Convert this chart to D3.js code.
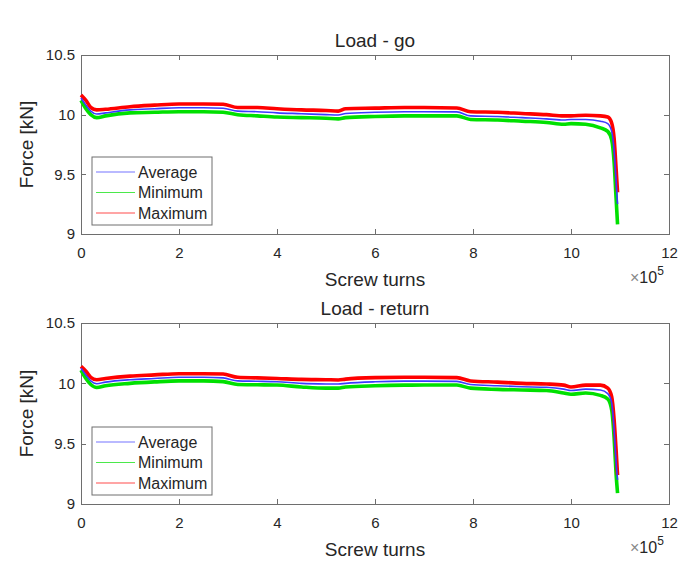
<!DOCTYPE html>
<html lang="en">
<head>
<meta charset="UTF-8">
<title>Load - go / Load - return</title>
<style>
  body { margin: 0; background: #fff; }
  text { font-family: "Liberation Sans", Arial, sans-serif; fill: #262626; }
  .axis path, .axis line { stroke: #6e6e6e; stroke-width: 1; shape-rendering: crispEdges; }
  .axis text { font-size: 15px; fill: #262626; }
</style>
</head>
<body>
<div id="chart"></div>
<script src="https://d3js.org/d3.v7.min.js"></script>
<script>
// screw turns, in units of 1e5
var turns = [0, 0.1, 0.2, 0.32, 0.5, 1.0, 1.5, 2.0, 2.5, 2.9, 3.2, 3.6, 4.0, 4.5, 5.0, 5.25, 5.4,
             6.0, 6.6, 7.0, 7.67, 7.95, 8.5, 9.0, 9.5, 9.85, 10.0, 10.3, 10.6, 10.75, 10.83, 10.88, 10.92, 10.95];

// Load - go
var goAvg = [10.14, 10.08, 10.03, 10.005, 10.015, 10.04, 10.05, 10.058, 10.058, 10.054, 10.03, 10.025, 10.015, 10.008, 10.0, 9.997, 10.01,
             10.02, 10.025, 10.025, 10.023, 9.99, 9.985, 9.975, 9.965, 9.955, 9.96, 9.96, 9.945, 9.925, 9.86, 9.7, 9.45, 9.25];
var goMin = [10.12, 10.05, 10.0, 9.975, 9.99, 10.015, 10.02, 10.025, 10.025, 10.02, 10.0, 9.99, 9.98, 9.975, 9.97, 9.965, 9.975,
             9.985, 9.99, 9.99, 9.99, 9.96, 9.955, 9.945, 9.935, 9.92, 9.925, 9.92, 9.89, 9.86, 9.79, 9.6, 9.3, 9.08];
var goMax = [10.165, 10.12, 10.06, 10.04, 10.045, 10.067, 10.08, 10.09, 10.09, 10.087, 10.06, 10.06, 10.05, 10.04, 10.035, 10.03, 10.05,
             10.055, 10.06, 10.06, 10.056, 10.025, 10.02, 10.01, 10.0, 9.99, 9.99, 9.995, 9.99, 9.98, 9.93, 9.8, 9.55, 9.35];

// Load - return
var retAvg = [10.125, 10.07, 10.02, 9.997, 10.01, 10.03, 10.04, 10.05, 10.05, 10.045, 10.02, 10.017, 10.013, 10.0, 9.995, 9.994, 10.0,
              10.013, 10.018, 10.018, 10.016, 9.99, 9.98, 9.972, 9.967, 9.952, 9.94, 9.952, 9.945, 9.915, 9.84, 9.62, 9.35, 9.2];
var retMin = [10.11, 10.04, 9.99, 9.965, 9.98, 10.0, 10.012, 10.02, 10.02, 10.014, 9.99, 9.988, 9.986, 9.97, 9.96, 9.96, 9.97,
              9.98, 9.985, 9.986, 9.986, 9.96, 9.95, 9.945, 9.94, 9.92, 9.91, 9.92, 9.9, 9.87, 9.78, 9.55, 9.25, 9.09];
var retMax = [10.14, 10.1, 10.05, 10.03, 10.04, 10.06, 10.07, 10.08, 10.08, 10.077, 10.05, 10.045, 10.04, 10.033, 10.03, 10.028, 10.035,
              10.047, 10.05, 10.05, 10.047, 10.02, 10.01, 10.0, 9.995, 9.985, 9.97, 9.985, 9.985, 9.96, 9.89, 9.7, 9.45, 9.24];

var xTicks = [0, 2, 4, 6, 8, 10, 12];
var yTicks = [9, 9.5, 10, 10.5];
var seriesNames = ["Average", "Minimum", "Maximum"];
var seriesColors = ["#3a3aff", "#00e000", "#ff0000"];

var W = 680, H = 563;
var svg = d3.select("#chart").append("svg")
    .attr("width", W).attr("height", H);

var panels = [
    { title: "Load - go", top: 55, bottom: 234, data: [goAvg, goMin, goMax] },
    { title: "Load - return", top: 323, bottom: 504, data: [retAvg, retMin, retMax] }
];

var left = 81, right = 669;

panels.forEach(function (p) {
    var x = d3.scaleLinear().domain([0, 12]).range([left, right]);
    var y = d3.scaleLinear().domain([9, 10.5]).range([p.bottom, p.top]);
    var g = svg.append("g");

    // axes with inward ticks on all sides
    g.append("g").attr("class", "axis")
        .attr("transform", "translate(0," + p.bottom + ")")
        .call(d3.axisBottom(x).tickValues(xTicks).tickFormat(d3.format("d"))
            .tickSizeInner(-5).tickSizeOuter(0).tickPadding(13));
    g.append("g").attr("class", "axis")
        .attr("transform", "translate(0," + p.top + ")")
        .call(d3.axisTop(x).tickValues(xTicks).tickFormat("")
            .tickSizeInner(-5).tickSizeOuter(0));
    g.append("g").attr("class", "axis")
        .attr("transform", "translate(" + left + ",0)")
        .call(d3.axisLeft(y).tickValues(yTicks).tickFormat(function (d) { return d; })
            .tickSizeInner(-5).tickSizeOuter(0).tickPadding(6));
    g.append("g").attr("class", "axis")
        .attr("transform", "translate(" + right + ",0)")
        .call(d3.axisRight(y).tickValues(yTicks).tickFormat("")
            .tickSizeInner(-5).tickSizeOuter(0));

    // lines: min, max, then average on top
    var line = d3.line()
        .x(function (d, i) { return x(turns[i]); })
        .y(function (d) { return y(d); })
        .curve(d3.curveMonotoneX);

    [1, 2, 0].forEach(function (k) {
        g.append("path")
            .datum(p.data[k])
            .attr("d", line)
            .attr("fill", "none")
            .attr("stroke", seriesColors[k])
            .attr("stroke-width", k === 0 ? 1.6 : 3.6)
            .attr("stroke-linejoin", "round");
    });

    // title
    g.append("text")
        .attr("x", (left + right) / 2).attr("y", p.top - 8)
        .attr("text-anchor", "middle")
        .style("font-size", "19px")
        .text(p.title);

    // x label
    g.append("text")
        .attr("x", (left + right) / 2).attr("y", p.bottom + 52)
        .attr("text-anchor", "middle")
        .style("font-size", "19px")
        .text("Screw turns");

    // exponent
    var ex = g.append("text")
        .attr("x", 630).attr("y", p.bottom + 49)
        .style("font-size", "16px");
    ex.append("tspan").style("fill", "#888").text("×");
    ex.append("tspan").text("10");
    ex.append("tspan").attr("dy", -8).style("font-size", "12px").text("5");

    // y label
    g.append("text")
        .attr("transform", "translate(33," + ((p.top + p.bottom) / 2) + ") rotate(-90)")
        .attr("text-anchor", "middle")
        .style("font-size", "19px")
        .text("Force [kN]");

    // legend
    var lg = g.append("g").attr("transform", "translate(92," + (p.bottom - 77) + ")");
    lg.append("rect")
        .attr("width", 120).attr("height", 68)
        .attr("fill", "#fff").attr("stroke", "#6e6e6e").attr("stroke-width", 1);
    seriesNames.forEach(function (name, i) {
        var yy = 15 + i * 20.5;
        lg.append("line")
            .attr("x1", 4).attr("x2", 43).attr("y1", yy).attr("y2", yy)
            .attr("stroke", seriesColors[i]).attr("stroke-width", 1.2)
            .attr("opacity", 0.7);
        lg.append("text")
            .attr("x", 46).attr("y", yy + 5.5)
            .style("font-size", "16px")
            .text(name);
    });
});
</script>
</body>
</html>
